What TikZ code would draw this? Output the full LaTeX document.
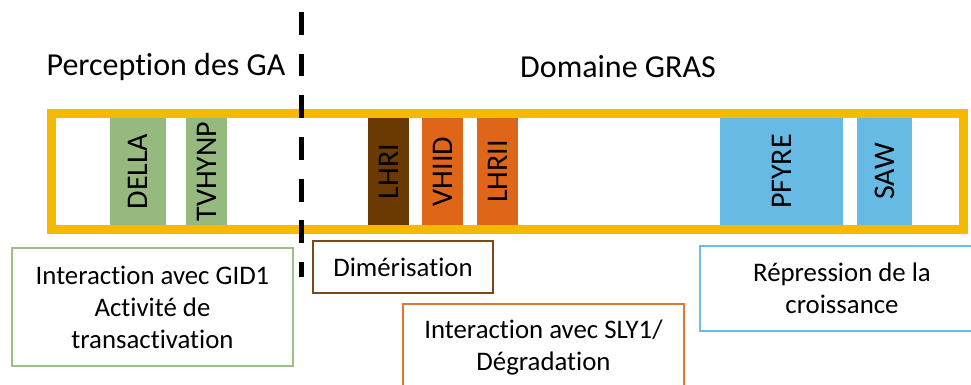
\documentclass[tikz,border=0pt]{standalone}
\usepackage{fontspec}
\setmainfont{Carlito}[Ligatures=NoCommon]
\usepackage{tikz}
\usetikzlibrary{positioning}
\definecolor{mygold}{RGB}{245,185,0}
\definecolor{mygreen}{RGB}{149,185,127}
\definecolor{mybrown}{RGB}{107,58,2}
\definecolor{myorange}{RGB}{223,102,25}
\definecolor{myblue}{RGB}{102,186,227}
\definecolor{mygreenline}{RGB}{155,192,134}
\definecolor{mybrownline}{RGB}{122,74,28}
\definecolor{myorangeline}{RGB}{226,120,46}
\definecolor{myblueline}{RGB}{107,189,230}

\begin{document}
\begin{tikzpicture}[x=0.5pt,y=-0.5pt,
	every node/.style={inner sep=0pt},
	domnode/.style={rotate=90,minimum width=53.5pt,font=\fontsize{15}{18}\selectfont},
	frame/.style={draw=mygold,line width=4.5pt,minimum width=456pt,minimum height=57.75pt},
	titlenode/.style={font=\fontsize{16}{19}\selectfont},
	infobox/.style={draw,line width=1.1pt,align=center,font=\fontsize{13.4}{16}\selectfont},
	]
	\useasboundingbox (0,0) rectangle (971,385);
	\clip (0,0) rectangle (971,385);
	
	% the titles
	\node[titlenode] (percep) at (166,67) {Perception des GA};
	\node[titlenode] (gras) at (618,67) {Domaine GRAS};
	
	% the domains
	\foreach \n/\cx/\w/\c in {DELLA/138/28pt/mygreen,TVHYNP/206.5/20.5pt/mygreen,
		LHRI/388.5/20.5pt/mybrown,VHIID/442.5/20.5pt/myorange,LHRII/497.5/20.5pt/myorange,
		PFYRE/781.5/61.5pt/myblue,SAW/884.5/27.5pt/myblue}
	\node[domnode,fill=\c,minimum height=\w] (\n) at (\cx,171.5) {\n};
	
	% the protein
	\node[frame] (frame) at (507.5,171.75) {};
	
	% the separation
	\coordinate (septop) at (301,12);
	\coordinate (sepbot) at (301,277);
	\draw[line width=2.5pt,dash pattern=on 11.4pt off 9.45pt] (septop) -- (sepbot);
	
	% the functions
	\node[infobox,draw=mygreenline,minimum width=140.5pt,minimum height=59pt] (gid) at (152.5,307)
		{Interaction avec GID1\\Activité de\\transactivation};
	\node[infobox,draw=mybrownline,minimum width=90pt,minimum height=26pt] (dimer) at (403,267)
		{Dimérisation};
	\node[infobox,draw=myorangeline,minimum width=140.5pt,minimum height=43pt] (sly) at (543.5,347)
		{Interaction avec SLY1/\\Dégradation};
	\node[infobox,draw=myblueline,minimum width=142pt,minimum height=42.5pt] (repr) at (842,288.5)
		{Répression de la\\croissance};
\end{tikzpicture}
\end{document}
